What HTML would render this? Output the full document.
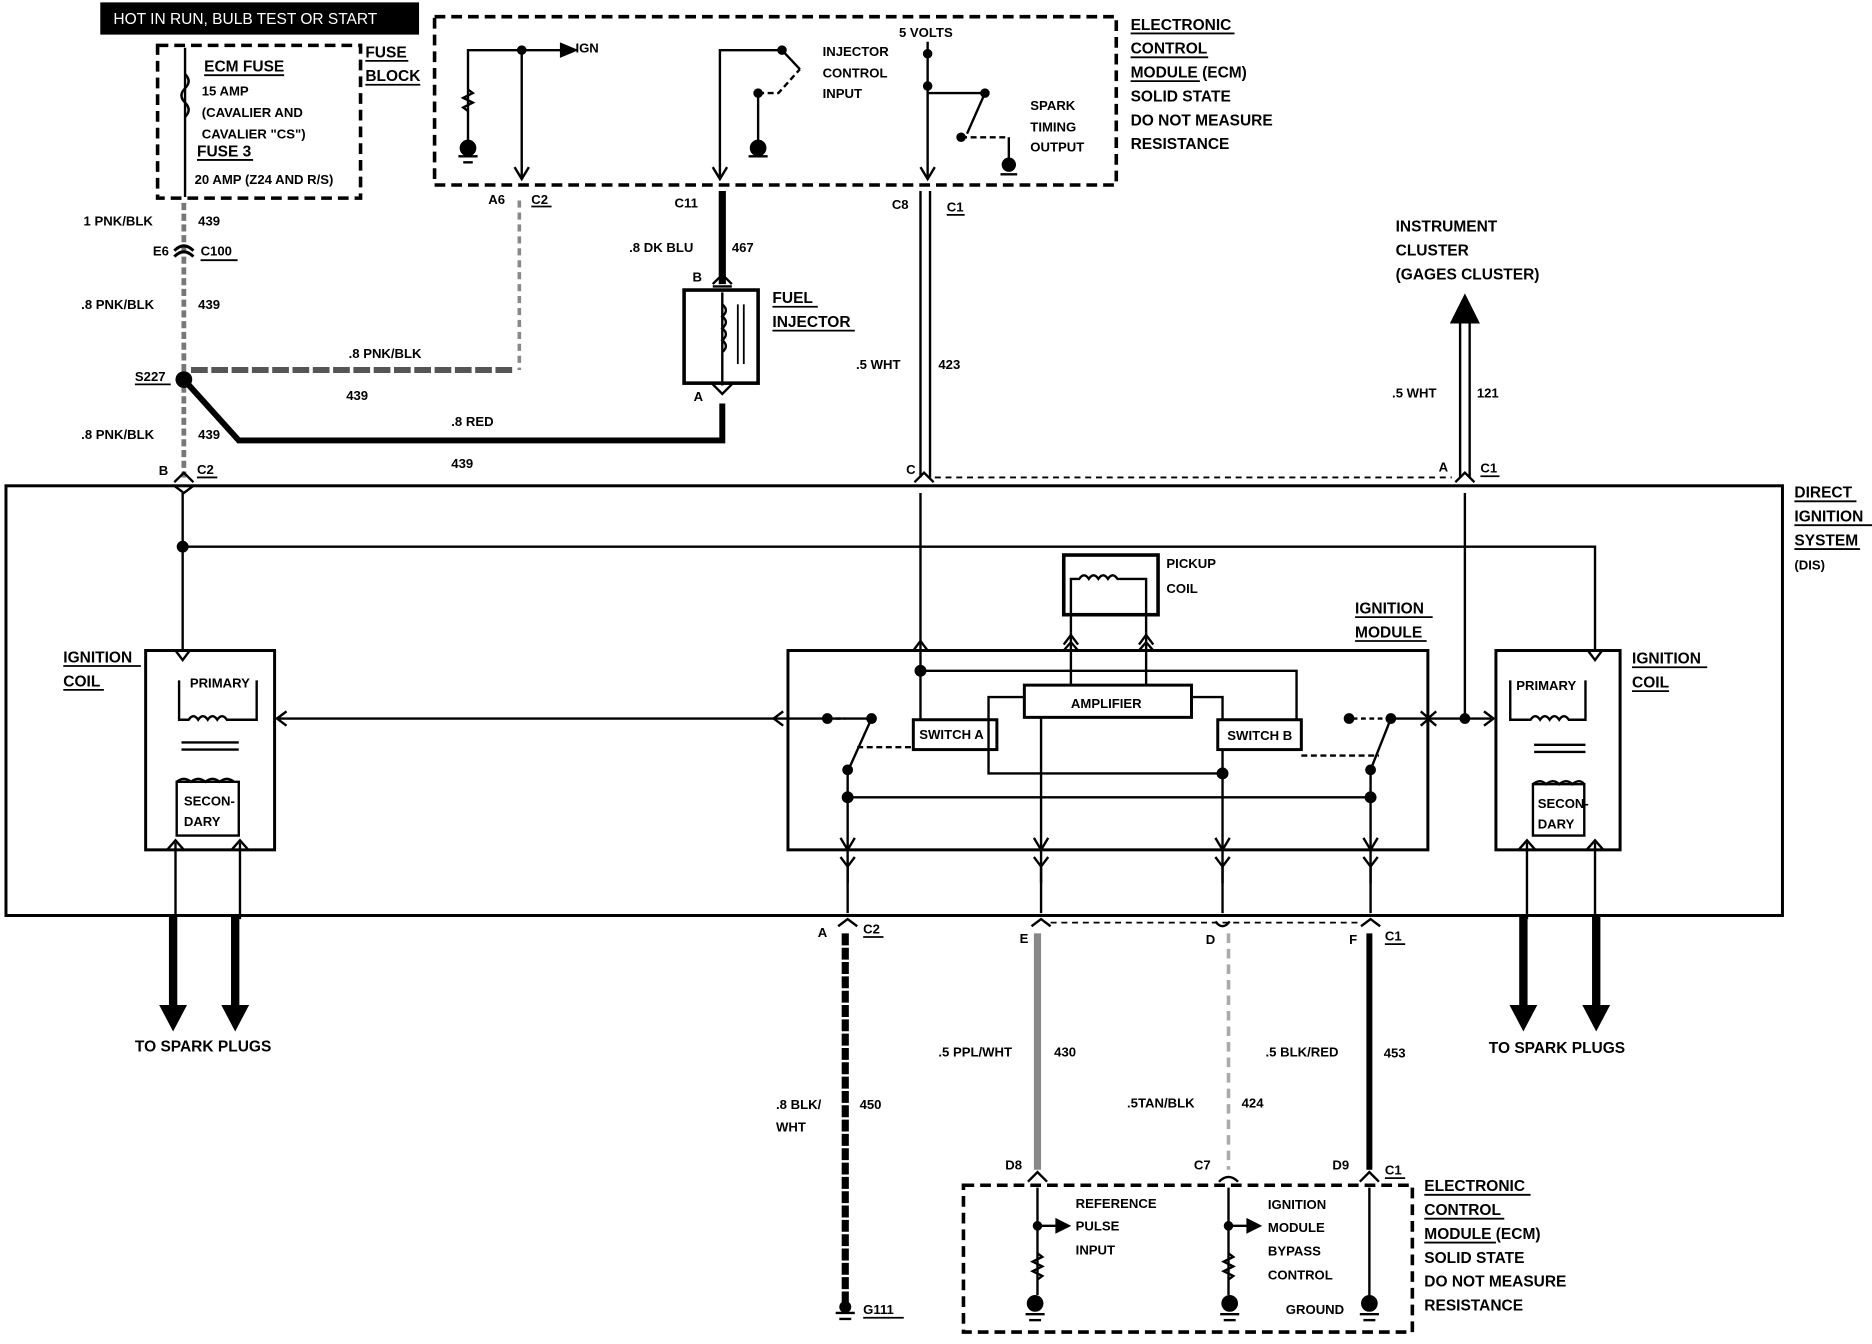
<!DOCTYPE html>
<html><head><meta charset="utf-8"><style>
html,body{margin:0;padding:0;background:#fff}
svg{display:block}
text{font-family:"Liberation Sans",Arial,sans-serif;font-weight:bold;font-size:13px;fill:#000}
.s{font-size:11px}
</style></head><body>
<svg width="1872" height="1344" viewBox="0 0 1568 1126" preserveAspectRatio="none" xmlns="http://www.w3.org/2000/svg">
<g fill="none" stroke="#000" stroke-width="2">
<!-- top black label -->
<rect x="85" y="3" width="265" height="25" fill="#000"/>
<!-- fuse block dashed -->
<rect x="132" y="38" width="170" height="128" stroke-dasharray="9,5" stroke-width="3"/>
<!-- top ECM dashed -->
<rect x="364" y="14" width="571" height="141" stroke-dasharray="9,5" stroke-width="3"/>
<!-- DIS box -->
<rect x="5" y="407" width="1488" height="360" stroke-width="2.5"/>
<!-- ignition module -->
<rect x="660" y="545" width="536" height="167" stroke-width="2.5"/>
<!-- coils -->
<rect x="122" y="545" width="108" height="167" stroke-width="2.5"/>
<rect x="1253" y="545" width="104" height="167" stroke-width="2.5"/>
<!-- pickup coil -->
<rect x="891" y="465" width="79" height="50" stroke-width="3"/>
<!-- fuel injector -->
<rect x="573" y="243" width="62" height="78" stroke-width="3"/>
<!-- bottom ECM dashed -->
<rect x="807" y="993" width="376" height="123" stroke-dasharray="9,5" stroke-width="3"/>

<!-- fuse wire -->
<line x1="155" y1="40" x2="155" y2="165"/>
<path d="M155 62 q6 6 0 12 q-6 6 0 12 q6 6 0 12" />
<!-- 439 vertical gray wire -->
<line x1="154" y1="170" x2="154" y2="400" stroke="#777" stroke-width="4" stroke-dasharray="6,3"/>
<path d="M146 215 q8 -8 16 0 M146 210 q8 -8 16 0" stroke-width="2.5"/>
<circle cx="154" cy="318" r="6" fill="#000"/>
<!-- S227 horizontal to A6 -->
<line x1="160" y1="310" x2="432" y2="310" stroke="#555" stroke-width="5" stroke-dasharray="14,3"/>
<line x1="435" y1="168" x2="435" y2="310" stroke="#888" stroke-width="3" stroke-dasharray="6,4"/>
<!-- red wire -->
<path d="M154 318 L200 369 L605 369 L605 338" stroke-width="5"/>
<!-- IGN -->
<path d="M392 90 V42 H470"/>
<path d="M470 37 L482 42 L470 47 Z" fill="#000"/>
<circle cx="437" cy="42" r="3" fill="#000"/>
<line x1="437" y1="42" x2="437" y2="150"/>
<path d="M431 140 L437 150 L443 140"/>
<path d="M392 75 l4 3 -8 4 8 4 -8 4 4 3" />
<line x1="392" y1="90" x2="392" y2="118"/>
<circle cx="392" cy="124" r="6" fill="#000"/><line x1="384" y1="131" x2="400" y2="131"/><line x1="388" y1="136" x2="396" y2="136"/>
<!-- injector control -->
<path d="M603 150 V42 H655 L670 58"/>
<circle cx="655" cy="42" r="3" fill="#000"/>
<path d="M635 78 L652 78 L670 58" stroke-dasharray="5,3"/>
<circle cx="635" cy="78" r="3" fill="#000"/>
<line x1="635" y1="78" x2="635" y2="118"/>
<circle cx="635" cy="124" r="6" fill="#000"/><line x1="627" y1="131" x2="643" y2="131"/>
<path d="M597 140 L603 150 L609 140"/>
<line x1="605" y1="160" x2="605" y2="238" stroke-width="6"/>
<path d="M597 238 L605 230 L613 238 M597 240 H613"/>
<path d="M605 245 V323"/><path d="M605 255 q6 5 0 10 q6 5 0 10 q6 5 0 10 q6 5 0 10"/>
<line x1="618" y1="255" x2="618" y2="305" stroke-width="1.5"/><line x1="623" y1="255" x2="623" y2="305" stroke-width="1.5"/>
<path d="M597 322 L605 330 L613 322"/>
<!-- 5 volts -->
<path d="M777 35 V150"/>
<circle cx="777" cy="45" r="3" fill="#000"/>
<circle cx="777" cy="72" r="3" fill="#000"/>
<path d="M777 78 H825 L810 112" />
<circle cx="825" cy="78" r="3" fill="#000"/>
<path d="M805 115 L825 115 L845 115" stroke-dasharray="5,3"/>
<circle cx="805" cy="115" r="3" fill="#000"/>
<line x1="845" y1="115" x2="845" y2="135"/>
<circle cx="845" cy="138" r="5" fill="#000"/><line x1="838" y1="146" x2="852" y2="146"/>
<path d="M771 140 L777 150 L783 140"/>
<!-- 423 double line -->
<line x1="771" y1="160" x2="771" y2="400" stroke-width="2"/><line x1="779" y1="160" x2="779" y2="400" stroke-width="2"/>
<line x1="783" y1="400" x2="1216" y2="400" stroke-dasharray="5,4" stroke-width="1.5"/>
<!-- 121 double line -->
<line x1="1223" y1="268" x2="1223" y2="400"/><line x1="1231" y1="268" x2="1231" y2="400"/>
<path d="M1216 270 L1227 248 L1238 270 Z" fill="#000"/>
<!-- connectors on DIS top -->
<path d="M146 404 L154 396 L162 404 M146 407 L154 413 L162 407"/>
<path d="M766 404 L774 396 L782 404"/>
<path d="M1219 404 L1227 396 L1235 404"/>
<!-- inside DIS -->
<line x1="153" y1="413" x2="153" y2="545"/>
<circle cx="153" cy="458" r="4" fill="#000"/>
<path d="M153 458 H1336 V545"/>
<path d="M147 545 L153 553 L159 545 M1330 545 L1336 553 L1342 545"/>
<line x1="771" y1="413" x2="771" y2="562"/>
<path d="M765 545 L771 537 L777 545"/>
<line x1="1227" y1="413" x2="1227" y2="600"/>
<!-- primaries -->
<path d="M150 570 V603 H158 q4 -6 8 0 q4 -6 8 0 q4 -6 8 0 q4 -6 8 0 H215 V570"/>
<path d="M1265 570 V603 H1282 q4 -6 8 0 q4 -6 8 0 q4 -6 8 0 q4 -6 8 0 H1328 V570"/>
<line x1="152" y1="622" x2="200" y2="622"/><line x1="152" y1="628" x2="200" y2="628"/>
<line x1="1285" y1="624" x2="1328" y2="624"/><line x1="1285" y1="630" x2="1328" y2="630"/>
<path d="M148 655 V700 H200 V655 Z" />
<path d="M1284 657 V700 H1327 V657 Z"/>
<path d="M148 655 q6 -5 12 0 q6 -5 12 0 q6 -5 12 0 q6 -5 12 0"/>
<path d="M1284 657 q6 -5 11 0 q6 -5 11 0 q6 -5 11 0 q6 -5 10 0"/>
<!-- primary to module arrow -->
<line x1="232" y1="602" x2="730" y2="602"/>
<path d="M240 596 L232 602 L240 608 M656 596 L648 602 L656 608"/>
<circle cx="693" cy="602" r="3.5" fill="#000"/>
<path d="M693 602 H708" stroke-dasharray="4,3"/>
<circle cx="730" cy="602" r="3.5" fill="#000"/>
<path d="M730 602 L712 642"/>
<circle cx="710" cy="645" r="3.5" fill="#000"/>
<path d="M718 626 H765" stroke-dasharray="5,3"/>
<rect x="765" y="603" width="70" height="25" stroke-width="2.5"/>
<rect x="858" y="574" width="140" height="27" stroke-width="2.5"/>
<rect x="1020" y="603" width="70" height="25" stroke-width="2.5"/>
<!-- module internals -->
<path d="M771 562 H1086 V603"/>
<circle cx="771" cy="562" r="4" fill="#000"/>
<line x1="771" y1="562" x2="771" y2="603"/>
<path d="M858 584 H828 V648 H1024"/>
<path d="M998 584 H1024 V603"/>
<line x1="1024" y1="628" x2="1024" y2="712"/>
<circle cx="1024" cy="648" r="4" fill="#000"/>
<line x1="872" y1="601" x2="872" y2="712"/>
<line x1="897" y1="574" x2="897" y2="530"/><line x1="960" y1="574" x2="960" y2="530"/>
<path d="M891 545 L897 538 L903 545 M954 545 L960 538 L966 545 M891 540 L897 532 L903 540 M954 540 L960 532 L966 540"/>
<path d="M897 530 V485 H904 q4 -6 8 0 q4 -6 8 0 q4 -6 8 0 q4 -6 8 0 H960 V530"/>
<line x1="710" y1="645" x2="710" y2="712"/>
<path d="M710 668 H1148"/>
<circle cx="710" cy="668" r="4" fill="#000"/><circle cx="1148" cy="668" r="4" fill="#000"/>
<line x1="1148" y1="645" x2="1148" y2="712"/>
<circle cx="1148" cy="645" r="3.5" fill="#000"/>
<path d="M1148 645 L1165 602"/>
<circle cx="1165" cy="602" r="3.5" fill="#000"/>
<circle cx="1130" cy="602" r="3.5" fill="#000"/>
<path d="M1133 602 H1160" stroke-dasharray="4,3"/>
<path d="M1090 633 H1155" stroke-dasharray="5,3"/>
<path d="M1165 602 H1249"/>
<path d="M1190 596 L1197 602 L1190 608 M1203 596 L1196 602 L1203 608 M1243 596 L1251 602 L1243 608"/>
<circle cx="1227" cy="602" r="3.5" fill="#000"/>
<!-- module bottom Y connectors -->
<g>
<path d="M704 702 L710 712 L716 702 M704 718 L710 726 L716 718 M710 726 V740"/>
<path d="M866 702 L872 712 L878 702 M866 718 L872 726 L878 718 M872 726 V740"/>
<path d="M1018 702 L1024 712 L1030 702 M1018 718 L1024 726 L1030 718 M1024 726 V740"/>
<path d="M1142 702 L1148 712 L1154 702 M1142 718 L1148 726 L1154 718 M1148 726 V740"/>
<line x1="710" y1="712" x2="710" y2="765"/><line x1="872" y1="712" x2="872" y2="765"/><line x1="1024" y1="712" x2="1024" y2="765"/><line x1="1148" y1="712" x2="1148" y2="765"/>
<path d="M702 776 L710 770 L718 776 M864 776 L872 770 L880 776 M1018 772 Q1024 780 1030 772 M1140 776 L1148 770 L1156 776"/>
<line x1="880" y1="773" x2="1140" y2="773" stroke-dasharray="5,4" stroke-width="1.5"/>
</g>
<!-- lower wires -->
<line x1="708" y1="782" x2="708" y2="1095" stroke-width="6" stroke-dasharray="10,2"/>
<line x1="869" y1="782" x2="869" y2="980" stroke="#888" stroke-width="6"/>
<line x1="1029" y1="782" x2="1029" y2="980" stroke="#aaa" stroke-width="3" stroke-dasharray="8,5"/>
<line x1="1147" y1="782" x2="1147" y2="980" stroke-width="5"/>
<path d="M861 990 L869 982 L877 990 M1021 990 Q1029 982 1037 990 M1139 990 L1147 982 L1155 990"/>
<line x1="700" y1="1100" x2="716" y2="1100"/><line x1="703" y1="1105" x2="713" y2="1105"/>
<circle cx="708" cy="1095" r="4" fill="#000"/>
<!-- bottom ECM internals -->
<line x1="869" y1="995" x2="869" y2="1085"/>
<circle cx="869" cy="1027" r="3" fill="#000"/>
<path d="M869 1027 H885"/><path d="M885 1022 L895 1027 L885 1032 Z" fill="#000"/>
<path d="M869 1050 l4 3 -8 4 8 4 -8 4 8 4 -4 3"/>
<circle cx="867" cy="1092" r="6" fill="#000"/><line x1="859" y1="1101" x2="875" y2="1101"/><line x1="862" y1="1106" x2="872" y2="1106"/>
<line x1="1029" y1="995" x2="1029" y2="1085"/>
<circle cx="1029" cy="1027" r="3" fill="#000"/>
<path d="M1029 1027 H1045"/><path d="M1045 1022 L1055 1027 L1045 1032 Z" fill="#000"/>
<path d="M1029 1050 l4 3 -8 4 8 4 -8 4 8 4 -4 3"/>
<circle cx="1030" cy="1092" r="6" fill="#000"/><line x1="1022" y1="1101" x2="1038" y2="1101"/><line x1="1025" y1="1106" x2="1035" y2="1106"/>
<line x1="1147" y1="995" x2="1147" y2="1085"/>
<circle cx="1147" cy="1092" r="6" fill="#000"/><line x1="1139" y1="1101" x2="1155" y2="1101"/><line x1="1142" y1="1106" x2="1152" y2="1106"/>
<!-- secondary to spark plugs -->
<path d="M140 712 L147 704 L154 712 M194 712 L201 704 L208 712 M1272 712 L1279 704 L1286 712 M1329 712 L1336 704 L1343 712"/>
<line x1="147" y1="706" x2="147" y2="770"/><line x1="201" y1="706" x2="201" y2="770"/>
<line x1="1279" y1="706" x2="1279" y2="770"/><line x1="1336" y1="706" x2="1336" y2="770"/>
<line x1="145" y1="768" x2="145" y2="845" stroke-width="7"/><line x1="197" y1="768" x2="197" y2="845" stroke-width="7"/>
<line x1="1276" y1="768" x2="1276" y2="845" stroke-width="7"/><line x1="1337" y1="768" x2="1337" y2="845" stroke-width="7"/>
<path d="M135 843 L145 862 L155 843 Z M187 843 L197 862 L207 843 Z M1266 843 L1276 862 L1286 843 Z M1327 843 L1337 862 L1347 843 Z" fill="#000"/>
</g>
<!-- underlines -->
<g stroke="#000" stroke-width="1.5">
<line x1="171" y1="63" x2="238" y2="63"/><line x1="165" y1="134" x2="212" y2="134"/>
<line x1="306" y1="51" x2="342" y2="51"/><line x1="306" y1="71" x2="352" y2="71"/>
<line x1="168" y1="218" x2="199" y2="218"/><line x1="113" y1="322" x2="143" y2="322"/>
<line x1="165" y1="400" x2="182" y2="400"/><line x1="445" y1="173" x2="462" y2="173"/>
<line x1="793" y1="180" x2="808" y2="180"/><line x1="1240" y1="399" x2="1256" y2="399"/>
<line x1="947" y1="28" x2="1034" y2="28"/><line x1="947" y1="48" x2="1012" y2="48"/><line x1="947" y1="68" x2="1005" y2="68"/>
<line x1="647" y1="257" x2="685" y2="257"/><line x1="647" y1="277" x2="716" y2="277"/>
<line x1="1503" y1="420" x2="1555" y2="420"/><line x1="1503" y1="440" x2="1568" y2="440"/><line x1="1503" y1="460" x2="1558" y2="460"/>
<line x1="1135" y1="517" x2="1200" y2="517"/><line x1="1135" y1="537" x2="1195" y2="537"/>
<line x1="53" y1="558" x2="118" y2="558"/><line x1="53" y1="578" x2="87" y2="578"/>
<line x1="1367" y1="559" x2="1430" y2="559"/><line x1="1367" y1="579" x2="1398" y2="579"/>
<line x1="723" y1="785" x2="740" y2="785"/><line x1="1160" y1="791" x2="1177" y2="791"/>
<line x1="1160" y1="987" x2="1177" y2="987"/><line x1="723" y1="1104" x2="757" y2="1104"/>
<line x1="1193" y1="1001" x2="1282" y2="1001"/><line x1="1193" y1="1021" x2="1260" y2="1021"/><line x1="1193" y1="1041" x2="1253" y2="1041"/>
</g>
<text x="95" y="20" style="fill:#fff;font-weight:normal" font-size="13">HOT IN RUN, BULB TEST OR START</text>
<text x="171" y="60">ECM FUSE</text>
<text x="169" y="80" class="s">15 AMP</text>
<text x="169" y="98" class="s">(CAVALIER AND</text>
<text x="169" y="116" class="s">CAVALIER "CS")</text>
<text x="165" y="131">FUSE 3</text>
<text x="163" y="154" class="s">20 AMP (Z24 AND R/S)</text>
<text x="306" y="48">FUSE</text><text x="306" y="68">BLOCK</text>
<text x="70" y="189" class="s">1 PNK/BLK</text><text x="166" y="189" class="s">439</text>
<text x="128" y="214" class="s">E6</text><text x="168" y="214" class="s">C100</text>
<text x="68" y="259" class="s">.8 PNK/BLK</text><text x="166" y="259" class="s">439</text>
<text x="292" y="300" class="s">.8 PNK/BLK</text><text x="290" y="335" class="s">439</text>
<text x="113" y="319" class="s">S227</text>
<text x="68" y="368" class="s">.8 PNK/BLK</text><text x="166" y="368" class="s">439</text>
<text x="378" y="357" class="s">.8 RED</text><text x="378" y="392" class="s">439</text>
<text x="133" y="398" class="s">B</text><text x="165" y="397" class="s">C2</text>
<text x="482" y="44" class="s">IGN</text>
<text x="409" y="171" class="s">A6</text><text x="445" y="171" class="s">C2</text>
<text x="565" y="174" class="s">C11</text>
<text x="527" y="211" class="s">.8 DK BLU</text><text x="613" y="211" class="s">467</text>
<text x="580" y="236" class="s">B</text><text x="581" y="336" class="s">A</text>
<text x="647" y="254">FUEL</text><text x="647" y="274">INJECTOR</text>
<text x="689" y="47" class="s">INJECTOR</text><text x="689" y="65" class="s">CONTROL</text><text x="689" y="82" class="s">INPUT</text>
<text x="753" y="31" class="s">5 VOLTS</text>
<text x="863" y="92" class="s">SPARK</text><text x="863" y="110" class="s">TIMING</text><text x="863" y="127" class="s">OUTPUT</text>
<text x="747" y="175" class="s">C8</text><text x="793" y="177" class="s">C1</text>
<text x="717" y="309" class="s">.5 WHT</text><text x="786" y="309" class="s">423</text>
<text x="759" y="397" class="s">C</text>
<text x="947" y="25" font-size="13">ELECTRONIC</text><text x="947" y="45">CONTROL</text><text x="947" y="65">MODULE (ECM)</text><text x="947" y="85">SOLID STATE</text><text x="947" y="105">DO NOT MEASURE</text><text x="947" y="125">RESISTANCE</text>
<text x="1169" y="194">INSTRUMENT</text><text x="1169" y="214">CLUSTER</text><text x="1169" y="234">(GAGES CLUSTER)</text>
<text x="1166" y="333" class="s">.5 WHT</text><text x="1237" y="333" class="s">121</text>
<text x="1205" y="395" class="s">A</text><text x="1240" y="396" class="s">C1</text>
<text x="1503" y="417">DIRECT</text><text x="1503" y="437">IGNITION</text><text x="1503" y="457">SYSTEM</text><text x="1503" y="477" class="s">(DIS)</text>
<text x="977" y="476" class="s">PICKUP</text><text x="977" y="497" class="s">COIL</text>
<text x="1135" y="514">IGNITION</text><text x="1135" y="534">MODULE</text>
<text x="53" y="555">IGNITION</text><text x="53" y="575">COIL</text>
<text x="1367" y="556">IGNITION</text><text x="1367" y="576">COIL</text>
<text x="159" y="576" class="s">PRIMARY</text><text x="1270" y="578" class="s">PRIMARY</text>
<text x="154" y="675" class="s">SECON-</text><text x="154" y="692" class="s">DARY</text>
<text x="1288" y="677" class="s">SECON-</text><text x="1288" y="694" class="s">DARY</text>
<text x="897" y="593" class="s">AMPLIFIER</text>
<text x="770" y="619" class="s">SWITCH A</text><text x="1028" y="620" class="s">SWITCH B</text>
<text x="685" y="785" class="s">A</text><text x="723" y="782" class="s">C2</text>
<text x="854" y="790" class="s">E</text><text x="1010" y="791" class="s">D</text><text x="1130" y="791" class="s">F</text><text x="1160" y="788" class="s">C1</text>
<text x="113" y="881">TO SPARK PLUGS</text><text x="1247" y="882">TO SPARK PLUGS</text>
<text x="786" y="885" class="s">.5 PPL/WHT</text><text x="883" y="885" class="s">430</text>
<text x="1060" y="885" class="s">.5 BLK/RED</text><text x="1159" y="886" class="s">453</text>
<text x="650" y="929" class="s">.8 BLK/</text><text x="650" y="948" class="s">WHT</text><text x="720" y="929" class="s">450</text>
<text x="944" y="928" class="s">.5TAN/BLK</text><text x="1040" y="928" class="s">424</text>
<text x="842" y="980" class="s">D8</text><text x="1000" y="980" class="s">C7</text><text x="1116" y="980" class="s">D9</text><text x="1160" y="984" class="s">C1</text>
<text x="901" y="1012" class="s">REFERENCE</text><text x="901" y="1031" class="s">PULSE</text><text x="901" y="1051" class="s">INPUT</text>
<text x="1062" y="1013" class="s">IGNITION</text><text x="1062" y="1032" class="s">MODULE</text><text x="1062" y="1052" class="s">BYPASS</text><text x="1062" y="1072" class="s">CONTROL</text>
<text x="1077" y="1101" class="s">GROUND</text>
<text x="723" y="1101" class="s">G111</text>
<text x="1193" y="998">ELECTRONIC</text><text x="1193" y="1018">CONTROL</text><text x="1193" y="1038">MODULE (ECM)</text><text x="1193" y="1058">SOLID STATE</text><text x="1193" y="1078">DO NOT MEASURE</text><text x="1193" y="1098">RESISTANCE</text>
</svg>
</body></html>
